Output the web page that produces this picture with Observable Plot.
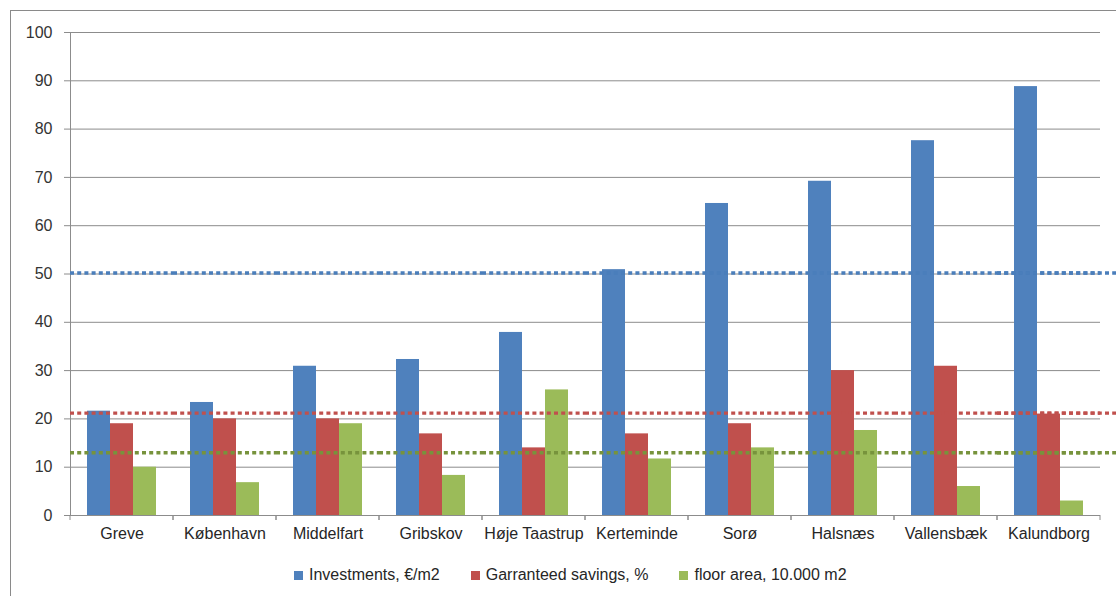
<!DOCTYPE html>
<html><head><meta charset="utf-8">
<script src="https://cdn.jsdelivr.net/npm/d3@7"></script>
<script src="https://cdn.jsdelivr.net/npm/@observablehq/plot@0.6"></script>
<style>
html,body{margin:0;padding:0;background:#fff;overflow:hidden;width:1116px;height:596px;}
body{font-family:"Liberation Sans",Arial,sans-serif;position:relative;}
#border{position:absolute;left:10px;top:10px;width:1200px;height:700px;border:1.6px solid #8a8a8a;box-sizing:border-box;}
#chart{position:absolute;left:0;top:0;}
#legend{position:absolute;top:565px;left:294px;display:flex;gap:31px;font-size:16px;color:#262626;line-height:20px;}
#legend .item{display:flex;align-items:center;}
#legend .sw{width:9px;height:9px;margin-right:6px;}
</style></head>
<body>
<div id="border"></div>
<div id="chart"></div>
<div id="legend"></div>
<script>
const categories = ["Greve","København","Middelfart","Gribskov","Høje Taastrup","Kerteminde","Sorø","Halsnæs","Vallensbæk","Kalundborg"];
const seriesNames = ["Investments, €/m2","Garranteed savings, %","floor area, 10.000 m2"];
const investments = [21.6, 23.4, 30.9, 32.3, 37.9, 50.9, 64.6, 69.2, 77.6, 88.8];
const savings = [19.0, 20.0, 20.0, 16.9, 14.0, 16.9, 19.0, 30.0, 30.9, 21.0];
const floorArea = [10.0, 6.8, 19.0, 8.3, 26.0, 11.7, 14.0, 17.6, 6.0, 3.0];
const referenceLevels = [50.2, 21.2, 13.0];
const yTicks = [0,10,20,30,40,50,60,70,80,90,100];

const barColors = ["#4F81BD","#C0504D","#9BBB59"];
const refColors = ["#4A7EBB","#C0504D","#77933C"];

const seriesValues = [investments, savings, floorArea];
const data = categories.flatMap((c, i) => seriesNames.map((s, k) => ({category: c, series: s, value: seriesValues[k][i]})));

const grid = "#8c8c8c";

function boundaryTicks(index, scales, values, dims) {
  const g = d3.create("svg:g").attr("stroke", grid).attr("stroke-width", 1);
  const yb = dims.height - dims.marginBottom;
  for (const x of [dims.marginLeft, dims.width - dims.marginRight]) {
    g.append("line").attr("x1", x).attr("x2", x).attr("y1", yb).attr("y2", yb + 5);
  }
  return g.node();
}

const refMarks = referenceLevels.flatMap((v, i) => [
  Plot.ruleY([v], {stroke: refColors[i], strokeWidth: 3.4, strokeDasharray: "4,3.2"}),
  Plot.ruleY([v], {stroke: refColors[i], strokeWidth: 3.4, strokeDasharray: "4,3.2", facetAnchor: "right", insetRight: -16})
]);

const chart = Plot.plot({
  width: 1116,
  height: 560,
  marginLeft: 69,
  marginRight: 16,
  marginTop: 32,
  marginBottom: 45,
  style: {fontFamily: "'Liberation Sans', Arial, sans-serif", fontSize: "16px", color: "#333", background: "transparent", overflow: "visible"},
  fx: {domain: categories, padding: 0},
  x: {domain: seriesNames, paddingInner: 0, paddingOuter: 0.72, axis: null},
  y: {domain: [0, 100]},
  color: {domain: seriesNames, range: barColors},
  marks: [
    Plot.ruleY(yTicks.filter(d => d > 0), {stroke: grid, strokeWidth: 1}),
    Plot.barY(data, {fx: "category", x: "series", y: "value", fill: "series"}),
    Plot.ruleY([0], {stroke: grid, strokeWidth: 1}),
    Plot.frame({anchor: "left", facetAnchor: "left", stroke: grid, strokeWidth: 1}),
    boundaryTicks,
    ...refMarks,
    Plot.axisY({ticks: yTicks, tickSize: 6, tickPadding: 12, stroke: grid, label: null, fill: "#333", fontSize: 16}),
    Plot.axisFx({anchor: "bottom", tickSize: 0, tickPadding: 12, label: null, fill: "#262626", fontSize: 16})
  ]
});
document.getElementById("chart").append(chart);

const legend = d3.select("#legend");
seriesNames.forEach((s, k) => {
  const it = legend.append("div").attr("class", "item");
  it.append("div").attr("class", "sw").style("background", barColors[k]);
  it.append("span").text(s);
});
</script>
</body></html>
